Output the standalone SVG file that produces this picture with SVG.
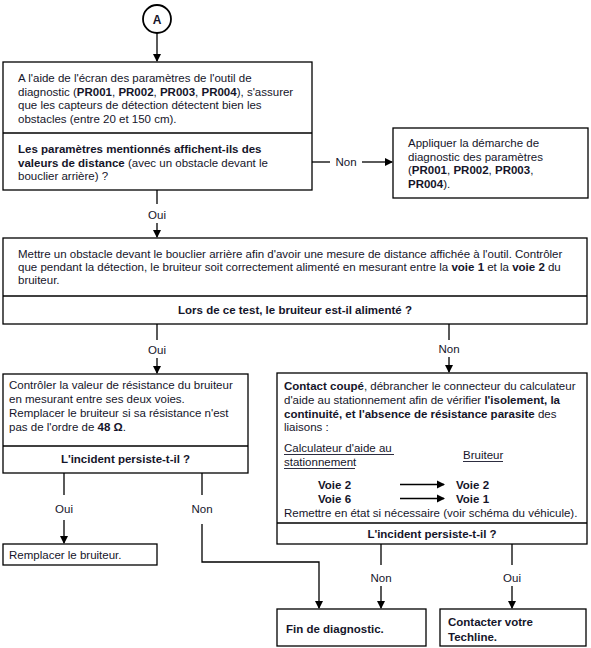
<svg xmlns="http://www.w3.org/2000/svg" width="591" height="648" viewBox="0 0 591 648">
<style>
text{font-family:"Liberation Sans",Arial,sans-serif;font-size:11.5px;fill:#15152a}
.b{font-weight:bold}
.box{fill:#fff;stroke:#000;stroke-width:1.3}
.ln{fill:none;stroke:#000;stroke-width:1.3}
.c{text-anchor:middle}
</style>
<defs>
<marker id="ah" markerWidth="8" markerHeight="10" refX="7" refY="4" orient="auto" markerUnits="userSpaceOnUse" viewBox="0 0 8 8">
<path d="M0,0 L8,4 L0,8 Z" fill="#000"/>
</marker>
</defs>
<rect width="591" height="648" fill="#fff"/>

<g id="connectors">
<line class="ln" x1="157" y1="33" x2="157" y2="61" marker-end="url(#ah)"/>
<line class="ln" x1="312" y1="162" x2="330" y2="162"/>
<text x="346" y="166" class="c">Non</text>
<line class="ln" x1="362" y1="162" x2="392" y2="162" marker-end="url(#ah)"/>
<line class="ln" x1="157" y1="190" x2="157" y2="204"/>
<text x="157" y="219" class="c">Oui</text>
<line class="ln" x1="157" y1="223" x2="157" y2="237" marker-end="url(#ah)"/>
<line class="ln" x1="157" y1="324" x2="157" y2="340"/>
<text x="157" y="354" class="c">Oui</text>
<line class="ln" x1="157" y1="358" x2="157" y2="373" marker-end="url(#ah)"/>
<line class="ln" x1="449" y1="324" x2="449" y2="340"/>
<text x="449" y="353" class="c">Non</text>
<line class="ln" x1="449" y1="357" x2="449" y2="372" marker-end="url(#ah)"/>
<line class="ln" x1="64" y1="473" x2="64" y2="495"/>
<text x="64" y="513" class="c">Oui</text>
<line class="ln" x1="64" y1="520" x2="64" y2="543" marker-end="url(#ah)"/>
<line class="ln" x1="202" y1="473" x2="202" y2="495"/>
<text x="202" y="513" class="c">Non</text>
<polyline class="ln" points="202,524 202,562 319,562 319,608" marker-end="url(#ah)"/>
<line class="ln" x1="381" y1="544" x2="381" y2="565"/>
<text x="381" y="582" class="c">Non</text>
<line class="ln" x1="381" y1="586" x2="381" y2="608" marker-end="url(#ah)"/>
<line class="ln" x1="512" y1="544" x2="512" y2="565"/>
<text x="512" y="582" class="c">Oui</text>
<line class="ln" x1="512" y1="586" x2="512" y2="608" marker-end="url(#ah)"/>
</g>

<g id="start">
<circle cx="157" cy="19" r="14" fill="#fff" stroke="#000" stroke-width="1.8"/>
<text x="157" y="23.5" class="c b" style="font-size:12px">A</text>
</g>

<g id="box1">
<rect class="box" x="3" y="62" width="309" height="128"/>
<line class="ln" x1="3" y1="133" x2="312" y2="133"/>
<text x="18" y="82">A l'aide de l'écran des paramètres de l'outil de</text>
<text x="18" y="95.5">diagnostic (<tspan class="b">PR001</tspan>, <tspan class="b">PR002</tspan>, <tspan class="b">PR003</tspan>, <tspan class="b">PR004</tspan>), s'assurer</text>
<text x="18" y="109">que les capteurs de détection détectent bien les</text>
<text x="18" y="122.5">obstacles (entre 20 et 150 cm).</text>
<text x="18" y="153" class="b">Les paramètres mentionnés affichent-ils des</text>
<text x="18" y="166.5"><tspan class="b">valeurs de distance</tspan> (avec un obstacle devant le</text>
<text x="18" y="180">bouclier arrière) ?</text>
</g>

<g id="box_param">
<rect class="box" x="393" y="128" width="195" height="70"/>
<text x="408" y="147">Appliquer la démarche de</text>
<text x="408" y="160.5">diagnostic des paramètres</text>
<text x="408" y="174">(<tspan class="b">PR001</tspan>, <tspan class="b">PR002</tspan>, <tspan class="b">PR003</tspan>,</text>
<text x="408" y="187.5"><tspan class="b">PR004</tspan>).</text>
</g>

<g id="box2">
<rect class="box" x="3" y="238" width="584" height="86"/>
<line class="ln" x1="3" y1="296" x2="587" y2="296"/>
<text x="18" y="258">Mettre un obstacle devant le bouclier arrière afin d'avoir une mesure de distance affichée à l'outil. Contrôler</text>
<text x="18" y="271">que pendant la détection, le bruiteur soit correctement alimenté en mesurant entre la <tspan class="b">voie 1</tspan> et la <tspan class="b">voie 2</tspan> du</text>
<text x="18" y="284">bruiteur.</text>
<text x="295" y="314" class="c b">Lors de ce test, le bruiteur est-il alimenté ?</text>
</g>

<g id="box3">
<rect class="box" x="3" y="374" width="245" height="99"/>
<line class="ln" x1="3" y1="446" x2="248" y2="446"/>
<text x="9" y="389">Contrôler la valeur de résistance du bruiteur</text>
<text x="9" y="403">en mesurant entre ses deux voies.</text>
<text x="9" y="417">Remplacer le bruiteur si sa résistance n'est</text>
<text x="9" y="430.5">pas de l'ordre de <tspan class="b">48 Ω</tspan>.</text>
<text x="125.5" y="463" class="c b">L'incident persiste-t-il ?</text>
</g>

<g id="box4">
<rect class="box" x="277" y="373" width="310" height="171"/>
<line class="ln" x1="277" y1="523" x2="587" y2="523"/>
<text x="284" y="390"><tspan class="b">Contact coupé</tspan>, débrancher le connecteur du calculateur</text>
<text x="284" y="404">d'aide au stationnement afin de vérifier <tspan class="b">l'isolement, la</tspan></text>
<text x="284" y="417.5"><tspan class="b">continuité, et l'absence de résistance parasite</tspan> des</text>
<text x="284" y="431">liaisons :</text>
<text x="284" y="452">Calculateur d'aide au</text>
<line x1="284" y1="454.5" x2="394" y2="454.5" stroke="#15152a" stroke-width="0.9"/>
<text x="284" y="466">stationnement</text>
<line x1="284" y1="468.5" x2="355" y2="468.5" stroke="#15152a" stroke-width="0.9"/>
<text x="463" y="459">Bruiteur</text>
<line x1="463" y1="461.5" x2="503" y2="461.5" stroke="#15152a" stroke-width="0.9"/>
<text x="318" y="488.5" class="b">Voie 2</text>
<text x="318" y="502.5" class="b">Voie 6</text>
<line class="ln" x1="400" y1="484.5" x2="444" y2="484.5" marker-end="url(#ah)"/>
<line class="ln" x1="400" y1="498.5" x2="444" y2="498.5" marker-end="url(#ah)"/>
<text x="456" y="488.5" class="b">Voie 2</text>
<text x="456" y="502.5" class="b">Voie 1</text>
<text x="284" y="516.5">Remettre en état si nécessaire (voir schéma du véhicule).</text>
<text x="432" y="537.5" class="c b">L'incident persiste-t-il ?</text>
</g>

<g id="box_remplacer">
<rect class="box" x="3" y="544" width="154" height="21"/>
<text x="9" y="559">Remplacer le bruiteur.</text>
</g>

<g id="box_fin">
<rect class="box" x="277" y="609" width="149" height="37"/>
<text x="286" y="633" class="b">Fin de diagnostic.</text>
</g>

<g id="box_techline">
<rect class="box" x="440" y="609" width="146" height="37"/>
<text x="448" y="626" class="b">Contacter votre</text>
<text x="448" y="640.5" class="b">Techline.</text>
</g>
</svg>
